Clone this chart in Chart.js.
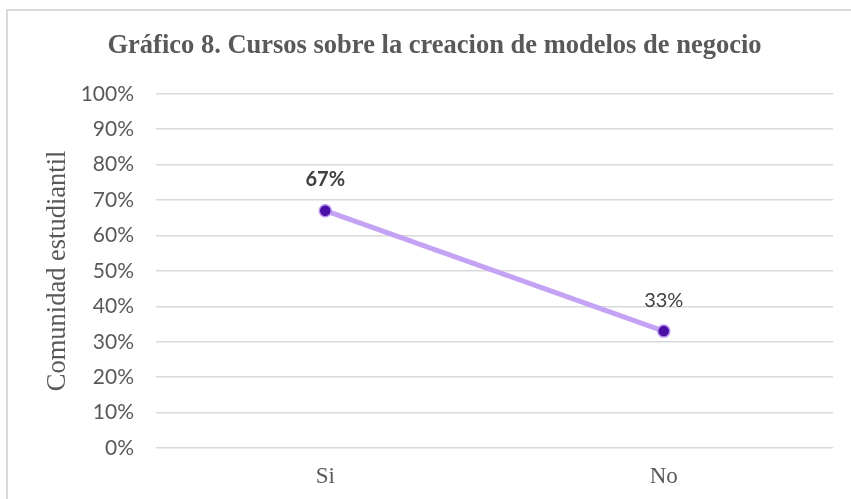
<!DOCTYPE html>
<html>
<head>
<meta charset="utf-8">
<script src="https://cdn.jsdelivr.net/npm/chart.js@4"></script>
<style>
  body { margin: 0; background: #fff; }
  #wrap { position: relative; width: 851px; height: 499px; }
  #frame { position: absolute; left: 6px; top: 9px; right: 0; bottom: 0;
           border-top: 2px solid #d9d9d9; border-left: 2px solid #d9d9d9; }
  canvas { position: absolute; left: 0; top: 0; }
</style>
</head>
<body>
<div id="wrap">
  <div id="frame"></div>
  <canvas id="chart" width="851" height="499"></canvas>
</div>
<script>
const categories = ["Si", "No"];
const values = [67, 33];
const valueLabels = ["67%", "33%"];
const boldLabel = [true, false];
const yTicks = [0, 10, 20, 30, 40, 50, 60, 70, 80, 90, 100];

const grey = "#595959";

// draws the value labels above each point
const pointLabels = {
  id: "pointLabels",
  afterDatasetsDraw(chart) {
    const ctx = chart.ctx;
    const meta = chart.getDatasetMeta(0);
    ctx.save();
    ctx.fillStyle = "#404040";
    ctx.textAlign = "center";
    ctx.textBaseline = "middle";
    meta.data.forEach((pt, i) => {
      ctx.font = (boldLabel[i] ? "bold " : "") + "20px Lato";
      ctx.fillText(valueLabels[i], pt.x, pt.y - 31);
    });
    ctx.restore();
  }
};

new Chart("chart", {
  type: "line",
  data: {
    labels: categories,
    datasets: [{
      data: values,
      borderColor: "#c4a2f4",
      borderWidth: 5,
      pointRadius: 6,
      pointBorderWidth: 1.5,
      pointBackgroundColor: "#4c0fa6",
      pointBorderColor: "#b893f2",
      tension: 0
    }]
  },
  options: {
    responsive: false,
    animation: false,
    layout: { padding: { left: 36, right: 18, top: 0, bottom: 0 } },
    plugins: {
      legend: { display: false },
      tooltip: { enabled: false },
      title: {
        display: true,
        text: "Gráfico 8. Cursos sobre la creacion de modelos de negocio",
        color: grey,
        font: { family: "Liberation Serif", size: 26.5, weight: "bold" },
        padding: { top: 30, bottom: 32 }
      }
    },
    scales: {
      x: {
        offset: true,
        grid: { display: false, drawTicks: false },
        border: { display: false },
        ticks: { color: grey, font: { family: "Liberation Serif", size: 23 }, padding: 15 },
        afterFit(scale) { scale.height = 51; }
      },
      y: {
        min: 0,
        max: 100,
        afterBuildTicks(scale) { scale.ticks = yTicks.map(v => ({ value: v })); },
        grid: { color: "#d9d9d9", lineWidth: 1.5, drawTicks: false },
        border: { display: false },
        ticks: {
          color: grey,
          font: { family: "Lato", size: 21 },
          padding: 22,
          callback: v => v + "%"
        },
        title: {
          display: true,
          text: "Comunidad estudiantil",
          color: grey,
          font: { family: "Liberation Serif", size: 26.5 },
          padding: { top: 6, bottom: 0 }
        },
        afterFit(scale) { scale.width = 120; }
      }
    }
  },
  plugins: [pointLabels]
});
</script>
</body>
</html>
